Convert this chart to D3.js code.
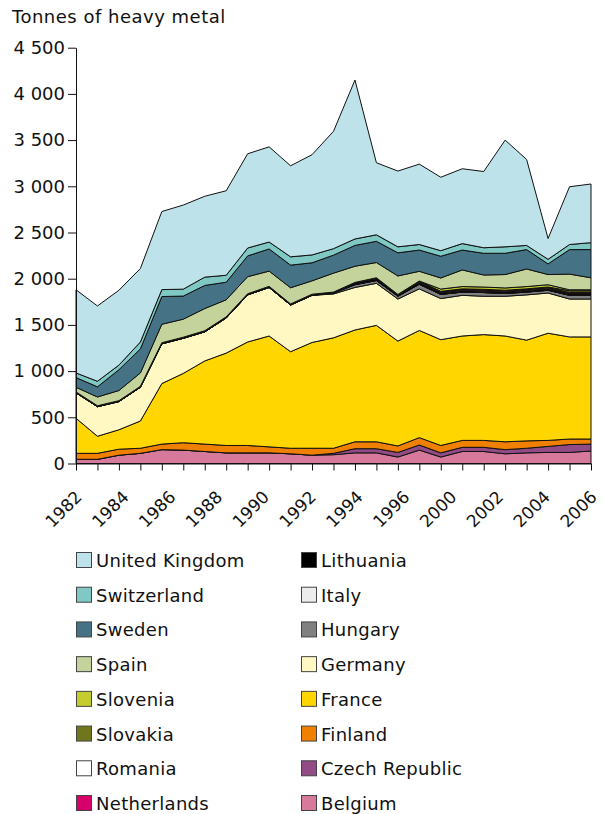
<!DOCTYPE html>
<html>
<head>
<meta charset="utf-8">
<script src="https://cdn.jsdelivr.net/npm/d3@7"></script>
<style>
  body { margin: 0; background: #fff; }
  text { font-family: "DejaVu Sans", Verdana, sans-serif; fill: #111; }
</style>
</head>
<body>
<div id="chart"></div>
<script>
// years on the category axis
const years = d3.range(1982, 2007).map(String)
// labels printed under the axis (spread evenly, as in the original)
const xLabels = ["1982", "1984", "1986", "1988", "1990", "1992", "1994", "1996", "2000", "2002", "2004", "2006"]
const yTicks = [0, 500, 1000, 1500, 2000, 2500, 3000, 3500, 4000, 4500]

// tonnes of heavy metal per country, 1982..2006
const belgium     = [45, 45, 90, 110, 150, 145, 130, 115, 115, 115, 105, 90, 95, 115, 115, 70, 145, 70, 130, 130, 105, 115, 120, 120, 135]
const czech       = [0, 0, 0, 0, 0, 0, 0, 0, 0, 0, 0, 0, 15, 45, 45, 50, 55, 45, 45, 45, 45, 50, 65, 85, 75]
const finland     = [65, 65, 65, 55, 60, 80, 80, 80, 80, 65, 60, 75, 55, 75, 75, 70, 80, 80, 75, 75, 85, 80, 65, 60, 55]
const france      = [380, 185, 210, 295, 655, 750, 900, 1000, 1120, 1200, 1045, 1145, 1195, 1210, 1260, 1135, 1160, 1145, 1130, 1145, 1145, 1090, 1160, 1105, 1105]
const germany     = [275, 320, 305, 365, 430, 380, 315, 380, 510, 525, 505, 510, 475, 460, 455, 455, 450, 445, 440, 415, 430, 490, 435, 410, 410]
const hungary     = [0, 0, 0, 0, 0, 0, 0, 0, 0, 0, 0, 0, 10, 30, 30, 30, 50, 45, 35, 40, 30, 30, 30, 40, 40]
const italy       = [0, 0, 0, 0, 0, 0, 0, 0, 0, 0, 0, 0, 0, 0, 0, 0, 0, 0, 0, 0, 0, 0, 0, 0, 0]
const lithuania   = [10, 10, 10, 10, 12, 12, 12, 12, 12, 12, 12, 12, 10, 20, 20, 15, 20, 15, 15, 15, 15, 15, 15, 15, 15]
const netherlands = [0, 0, 0, 0, 0, 0, 0, 0, 0, 0, 0, 0, 0, 0, 0, 0, 5, 8, 10, 10, 10, 10, 10, 10, 10]
const romania     = [0, 0, 0, 0, 0, 0, 0, 0, 0, 0, 0, 0, 0, 0, 5, 5, 5, 5, 5, 5, 5, 5, 5, 5, 5]
const slovakia    = [0, 0, 0, 0, 0, 0, 0, 0, 0, 0, 0, 0, 0, 5, 5, 0, 5, 5, 5, 5, 5, 5, 5, 20, 20]
const slovenia    = [0, 0, 0, 0, 0, 0, 0, 0, 0, 0, 0, 0, 0, 0, 0, 0, 0, 25, 25, 25, 25, 25, 25, 10, 10]
const spain       = [50, 95, 110, 145, 200, 195, 240, 185, 185, 165, 175, 145, 205, 175, 165, 200, 105, 120, 180, 130, 145, 190, 110, 170, 130]
const sweden      = [105, 110, 225, 260, 300, 250, 250, 190, 225, 240, 245, 195, 195, 225, 230, 250, 230, 235, 215, 235, 230, 210, 115, 265, 305]
const switzerland = [50, 60, 50, 75, 75, 75, 90, 75, 85, 75, 90, 85, 70, 70, 70, 65, 60, 60, 70, 60, 70, 45, 50, 55, 75]
const unitedKingdom = [900, 815, 810, 795, 845, 910, 875, 915, 1020, 1030, 985, 1085, 1270, 1720, 780, 820, 870, 795, 810, 825, 1155, 930, 225, 625, 635]

// stacking order, bottom to top
const countries = ["Belgium", "Czech Republic", "Finland", "France", "Germany", "Hungary", "Italy", "Lithuania",
    "Netherlands", "Romania", "Slovakia", "Slovenia", "Spain", "Sweden", "Switzerland", "United Kingdom"]
const seriesValues = [belgium, czech, finland, france, germany, hungary, italy, lithuania,
    netherlands, romania, slovakia, slovenia, spain, sweden, switzerland, unitedKingdom]
const colors = ["#d6799b", "#924b85", "#ef8000", "#ffd600", "#fff8c2", "#808080", "#ececec", "#000000",
    "#d7006b", "#ffffff", "#6f761c", "#c4cc2e", "#c3d39b", "#457385", "#7fc8c3", "#bee2e9"]

// legend columns (top to bottom)
const legendLeft = ["United Kingdom", "Switzerland", "Sweden", "Spain", "Slovenia", "Slovakia", "Romania", "Netherlands"]
const legendRight = ["Lithuania", "Italy", "Hungary", "Germany", "France", "Finland", "Czech Republic", "Belgium"]

const width = 605, height = 814

const svg = d3.select("#chart")
    .append("svg")
    .attr("width", width)
    .attr("height", height)

// table for the stack
const table = years.map((yr, i) => {
    const row = { year: yr }
    countries.forEach((c, j) => { row[c] = seriesValues[j][i] })
    return row
})
const color = d3.scaleOrdinal().domain(countries).range(colors)

const x = d3.scalePoint().domain(years).range([76, 591])
const xl = d3.scalePoint().domain(xLabels).range([76, 591])
const y = d3.scaleLinear().domain([0, 4500]).range([463.5, 47.7])

const stacked = d3.stack().keys(countries)(table)

const area = d3.area()
    .x(d => x(d.data.year))
    .y0(d => y(d[0]))
    .y1(d => y(d[1]))

svg.append("g")
    .selectAll("path")
    .data(stacked)
    .join("path")
    .attr("d", area)
    .attr("fill", d => color(d.key))
    .attr("stroke", "#111")
    .attr("stroke-width", 1)
    .attr("stroke-linejoin", "round")

// title
svg.append("text")
    .attr("x", 12)
    .attr("y", 23)
    .style("font-size", "18px")
    .style("letter-spacing", "0.5px")
    .text("Tonnes of heavy metal")

// y axis with space as thousands separator
const fmt = d3.formatLocale({ decimal: ".", thousands: " ", grouping: [3], currency: ["", ""] }).format(",")
const yAxis = svg.append("g")
    .attr("transform", "translate(76,0)")
    .call(d3.axisLeft(y).tickValues(yTicks).tickFormat(fmt).tickSize(8).tickSizeOuter(0).tickPadding(3))
yAxis.selectAll("text").style("font-size", "18px").attr("fill", "#111")
yAxis.selectAll("line, path").attr("stroke", "#111")

// x axis: one tick per year, labels spread evenly
const xAxis = svg.append("g")
    .attr("transform", "translate(0,463.5)")
    .call(d3.axisBottom(x).tickFormat("").tickSize(7).tickSizeOuter(0))
xAxis.selectAll("line, path").attr("stroke", "#111")

svg.append("g")
    .selectAll("text")
    .data(xLabels)
    .join("text")
    .attr("transform", d => `translate(${xl(d) + 7},498) rotate(-45)`)
    .attr("text-anchor", "end")
    .style("font-size", "17px")
    .text(d => d)

// legend
const legendRow = d3.scalePoint().domain(d3.range(8)).range([552, 795])
const drawLegend = (names, x0) => {
    const g = svg.append("g")
        .selectAll("g")
        .data(names)
        .join("g")
        .attr("transform", (d, i) => `translate(${x0},${legendRow(i)})`)
    g.append("rect")
        .attr("x", 0.5).attr("y", 0.5)
        .attr("width", 15).attr("height", 15)
        .attr("fill", d => color(d))
        .attr("stroke", "#444")
    g.append("text")
        .attr("x", 20)
        .attr("y", 15)
        .style("font-size", "18px")
        .style("letter-spacing", "0.3px")
        .text(d => d)
}
drawLegend(legendLeft, 76)
drawLegend(legendRight, 301)
</script>
</body>
</html>
